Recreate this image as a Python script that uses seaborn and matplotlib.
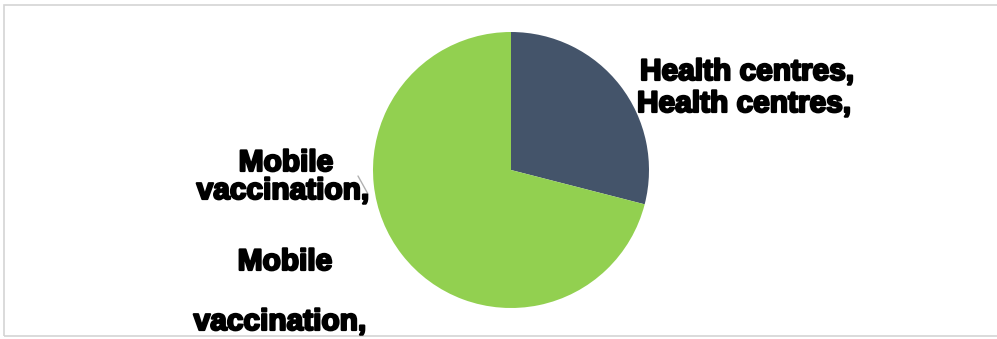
import matplotlib
matplotlib.use("Agg")
import matplotlib.pyplot as plt
import matplotlib.patheffects as pe
from matplotlib.patches import Rectangle
import seaborn as sns

categories = ["Health centres", "Mobile vaccination"]
values = [29, 71]
colors = ["#44546A", "#92D050"]

sns.set_theme(style="white")
plt.rcParams["font.family"] = ["Liberation Sans", "DejaVu Sans"]

W, H = 997, 339
fig = plt.figure(figsize=(W / 100, H / 100), dpi=100)
fig.patch.set_facecolor("white")

# frame border
fig.add_artist(Rectangle((4 / W, 3 / H), 1.2, (H - 7.5) / H, transform=fig.transFigure,
                         fill=False, edgecolor="#D4D4D4", linewidth=1.2))

cx, cy, R = 511, 170, 138
half = 140
ax = fig.add_axes([(cx - half) / W, (H - cy - half) / H, 2 * half / W, 2 * half / H])
ax.pie(values, colors=colors, startangle=90, counterclock=False, radius=1.0,
       wedgeprops=dict(linewidth=0))
lim = half / R
ax.set_xlim(-lim, lim)
ax.set_ylim(-lim, lim)
ax.set_aspect("equal")
ax.axis("off")

# faint leader line
fig.add_artist(plt.Line2D([358 / W, 368 / W], [1 - 176 / H, 1 - 194 / H],
                          transform=fig.transFigure, color="#B0B0B0", linewidth=1.0))

effects = [pe.withStroke(linewidth=1.6, foreground="black")]
style = dict(fontsize=21.5, fontweight="bold", color="black", ha="center", va="center",
             path_effects=effects)

fig.text(747 / W, 1 - 72 / H, categories[0] + ",", **style)
fig.text(744 / W, 1 - 104 / H, categories[0] + ",", **style)
fig.text(286 / W, 1 - 163 / H, "Mobile", **style)
fig.text(283 / W, 1 - 191 / H, "vaccination,", **style)
fig.text(285 / W, 1 - 262 / H, "Mobile", **style)
fig.text(280 / W, 1 - 322 / H, "vaccination,", **style)

fig.savefig("out.png", dpi=100, facecolor="white")
